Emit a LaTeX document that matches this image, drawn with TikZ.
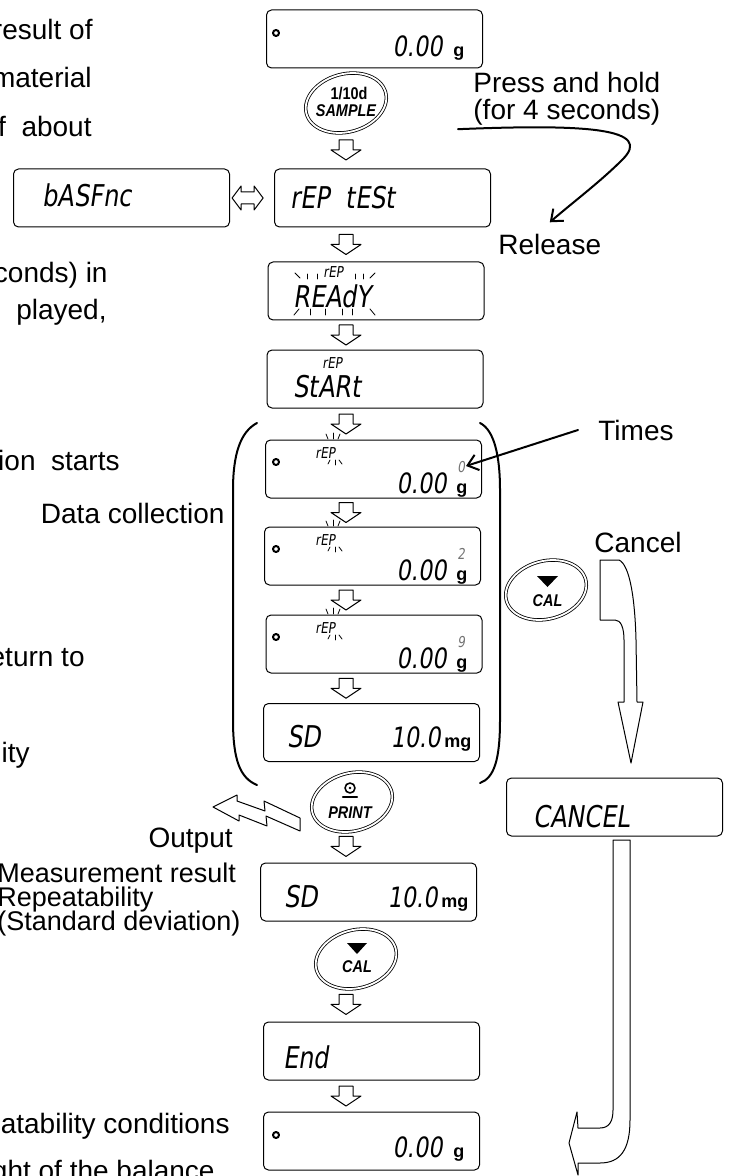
\documentclass[tikz,border=0pt]{standalone}
\usepackage{fontspec}
\setmainfont{Liberation Sans}
\newfontfamily\segfont[FakeStretch=0.8,FakeSlant=0.15]{DejaVu Sans}
\newfontfamily\keyfont[FakeStretch=0.85]{Liberation Sans}
\usetikzlibrary{shapes.geometric,arrows.meta,calc}

\tikzset{
  stepdown/.pic={\draw[fill=white,line width=.5pt] (-7,-10) -- (7,-10) -- (7,0) -- (15,0) -- (0,10) -- (-15,0) -- (-7,0) -- cycle;},
  swaparr/.pic={\draw[fill=white,line width=.5pt] (-15.5,0) -- (-6.5,-12) -- (-6.5,-6) -- (6.5,-6) -- (6.5,-12) -- (15.5,0) -- (6.5,12) -- (6.5,6) -- (-6.5,6) -- (-6.5,12) -- cycle;}
}
\newcommand\godown[2]{\pic at ($(ax |- #1)!.5!(ax |- #2)$) {stepdown};}

\begin{document}
\begin{tikzpicture}[x=0.5pt,y=-0.5pt,line cap=round,line join=round,
    lcd/.style={draw,rounded corners=2.5pt,line width=.5pt,minimum width=108pt,minimum height=29pt,inner sep=0pt},
    key/.style={ellipse,draw,double,double distance=.9pt,line width=.4pt,minimum width=41pt,minimum height=29pt,inner sep=0pt,rotate=15},
    seg/.style={font=\segfont\fontsize{15}{15}\selectfont,inner sep=0pt},
    segnum/.style={font=\segfont\fontsize{14}{14}\selectfont,inner sep=0pt},
    segsm/.style={font=\segfont\fontsize{7.5}{7.5}\selectfont,inner sep=0pt},
    unit/.style={font=\bfseries\fontsize{9}{9}\selectfont,inner sep=0pt},
    lbl/.style={font=\fontsize{14}{16}\selectfont,inner sep=0pt},
    lblsm/.style={font=\fontsize{13.5}{14}\selectfont,inner sep=0pt},
    keytxt/.style={font=\keyfont\bfseries\itshape\fontsize{8.5}{9}\selectfont,inner sep=0pt},
    blink/.style={line width=.4pt},
    >={Straight Barb[length=5pt,width=8pt]}]
  \useasboundingbox (0,0) rectangle (729,1176);
  \clip (0,0) rectangle (729,1176);
  \coordinate (ax) at (346,0);

  % text of the page, cut at the left edge
  \node[lbl,anchor=base east] (l1) at (93,40) {result of};
  \node[lbl,anchor=base east] (l2) at (92,88) {material};
  \node[lbl,anchor=base east] (l3) at (92,137) {f\ \ about};
  \node[lbl,anchor=base east] (l4) at (108,283) {conds) in};
  \node[lbl,anchor=base east] (l5) at (107,320) {played,};
  \node[lbl,anchor=base east] (l6) at (120,470) {tion\ \ starts};
  \node[lbl,anchor=base east] (l7) at (85,666) {eturn to};
  \node[lbl,anchor=base east] (l8) at (30,762) {ity};
  \node[lblsm,anchor=base west] (l9) at (-3,882) {Measurement result};
  \node[lblsm,anchor=base west] (l10) at (-3,906) {Repeatability};
  \node[lblsm,anchor=base west] (l11) at (-3,930) {(Standard deviation)};
  \node[lbl,anchor=base east] (l12) at (230,1133) {eatability conditions};
  \node[lbl,anchor=base east] (l13) at (215,1180) {ght of the balance};

  % labels
  \node[lbl,anchor=base west] (press1) at (473,93) {Press and hold};
  \node[lbl,anchor=base west] (press2) at (473,120) {(for 4 seconds)};
  \node[lbl,anchor=base west] (rel) at (498,255) {Release};
  \node[lbl,anchor=base west] (times) at (598,440) {Times};
  \node[lbl,anchor=base west] (cnc) at (594,552) {Cancel};
  \node[lbl,anchor=base east] (dcol) at (225,523) {Data collection};
  \node[lbl,anchor=base east] (outp) at (233,847) {Output};

  % displays and keys
  \node[lcd] (top0) at (374.5,39) {};
  \node[key] (smp) at (346,103) {};
  \node[keytxt] (smp1) at (349,94) {\upshape 1/10d};
  \node[keytxt] (smp2) at (346,111) {SAMPLE};
  \node[lcd] (bas) at (121.5,198) {};
  \node[lcd] (rept) at (382.5,198) {};
  \node[lcd] (ready) at (376,291) {};
  \node[lcd] (start) at (375,379) {};
  \node[lcd] (t1) at (373.5,469) {};
  \node[lcd] (t2) at (372.5,556) {};
  \node[lcd] (t3) at (374,644) {};
  \node[lcd] (sd1) at (371.5,732.5) {};
  \node[key] (prt) at (352,802) {};
  \node[keytxt] (prt1) at (350,813) {PRINT};
  \node[lcd] (sd2) at (368.5,892) {};
  \node[key] (cal1) at (356,959) {};
  \node[keytxt] (cal1t) at (357,967) {CAL};
  \node[lcd] (endd) at (371.5,1051) {};
  \node[lcd] (fin) at (371.5,1141) {};
  \node[key] (cal2) at (546,590) {};
  \node[keytxt] (cal2t) at (547.5,601) {CAL};
  \node[lcd] (cancel) at (614.5,807) {};

  % key symbols
  \draw[line width=.8pt] (350,788) circle (5);
  \fill (350,788) circle (1.3);
  \draw[line width=1.2pt] (343,797) -- (357,797);
  \fill (347,943) -- (367,943) -- (357,954) -- cycle;
  \fill (537,576) -- (558,576) -- (547.5,587) -- cycle;

  % display contents
  \draw[line width=1pt] (276,33) circle (3);
  \node[segnum,anchor=base east] (top0v) at (443,57) {0.00};
  \node[unit,anchor=base west] (top0u) at (453,57) {g};
  \node[seg,anchor=base west] (basv) at (42,207) {bASFnc};
  \node[seg,anchor=base west] (reptv) at (290,209) {rEP\hspace{8pt}tESt};
  \node[seg,anchor=base west] (readyv) at (293,307) {REAdY};
  \node[segsm,anchor=base west] (readyr) at (323,278) {rEP};
  \foreach \x in {307,317,355,363} \draw[blink] (\x,274) -- (\x,279);
  \draw[blink] (295,273) -- (300,278);
  \draw[blink] (375,273) -- (370,278);
  \foreach \x in {310,325,342,352} \draw[blink] (\x,309) -- (\x,315);
  \draw[blink] (299,309) -- (294,315);
  \draw[blink] (370,309) -- (375,315);
  \node[seg,anchor=base west] (startv) at (293,397) {StARt};
  \node[segsm,anchor=base west] (startr) at (322,368) {rEP};
  \foreach \n/\dy/\c in {1/0/0,2/87/2,3/175/9}{
    \draw[line width=1pt] (276,462+\dy) circle (3);
    \node[segsm,anchor=base west] (tr\n) at (315,458+\dy) {rEP};
    \draw[blink] (326,434+\dy) -- (328,439+\dy);
    \draw[blink] (333,433+\dy) -- (333,439+\dy);
    \draw[blink] (340,434+\dy) -- (338,439+\dy);
    \draw[blink] (330,460+\dy) -- (328,464+\dy);
    \draw[blink] (335,460+\dy) -- (335,465+\dy);
    \draw[blink] (339,460+\dy) -- (342,464+\dy);
    \node[segnum,anchor=base east] (tv\n) at (447,493+\dy) {0.00};
    \node[unit,anchor=base west] (tu\n) at (456,493+\dy) {g};
    \node[segsm,anchor=base west,text=black!55] (tc\n) at (457,472+\dy) {\c};
  }
  \node[seg,anchor=base west] (sd1a) at (287,747) {SD};
  \node[segnum,anchor=base east] (sd1v) at (441,747) {10.0};
  \node[unit,anchor=base west] (sd1u) at (444,747) {mg};
  \node[seg,anchor=base west] (sd2a) at (284,907) {SD};
  \node[segnum,anchor=base east] (sd2v) at (438,907) {10.0};
  \node[unit,anchor=base west] (sd2u) at (441,907) {mg};
  \node[seg,anchor=base west] (endv) at (283,1068) {End};
  \draw[line width=1pt] (276,1135) circle (3);
  \node[segnum,anchor=base east] (finv) at (443,1157) {0.00};
  \node[unit,anchor=base west] (finu) at (453,1157) {g};
  \node[seg,anchor=base west] (cancelv) at (533,827) {CANCEL};

  % step arrows
  \godown{smp.south}{rept.north}
  \godown{rept.south}{ready.north}
  \godown{ready.south}{start.north}
  \godown{start.south}{t1.north}
  \godown{t1.south}{t2.north}
  \godown{t2.south}{t3.north}
  \godown{t3.south}{sd1.north}
  \godown{prt.south}{sd2.north}
  \godown{cal1.south}{endd.north}
  \godown{endd.south}{fin.north}
  \pic at ($(bas.east)!.4!(rept.west)$) {swaparr};

  % brackets round the data collection
  \draw[line width=1pt] (257,423) .. controls (240,432) and (233,455) .. (233,490) -- (233,720)
    .. controls (233,760) and (240,778) .. (257,785);
  \draw[line width=1pt] (480,423) .. controls (494,430) and (500,455) .. (500,490) -- (500,720)
    .. controls (500,760) and (494,778) .. (480,783);

  % pointers
  \coordinate (hold) at ([xshift=-7.5pt,yshift=-1.5pt]press2.south west);
  \draw[->,line width=1pt] (hold) .. controls (585,124) and (655,128) .. (622,160)
    .. controls (600,182) and (572,203) .. ([yshift=6pt]rel.north);
  \coordinate (cnt) at (466,466);
  \draw[->,line width=1pt] ([xshift=-10pt]times.west) -- (cnt);

  % hollow arrows
  \draw[fill=white,line width=.5pt] (600,560) -- (619,560) .. controls (630,565) and (635,600) .. (636,640)
    -- (637,702) -- (643,702) -- (631,763) -- (618,702) -- (624,702) -- (624,640)
    .. controls (624,628) and (621,620) .. (615,620) -- (600,620) -- cycle;
  \draw[fill=white,line width=.5pt] (613,840) -- (630,840) -- (630,1120) .. controls (630,1150) and (620,1163) .. (600,1163)
    -- (578,1163) -- (578,1175) -- (569,1143) -- (577,1112) -- (578,1128) -- (600,1128)
    .. controls (610,1128) and (613,1120) .. (613,1110) -- cycle;
  \draw[fill=white,line width=.5pt] (213,807) -- (237,795) -- (237,801) -- (265,811) -- (264,801) -- (300,818)
    -- (300,831) -- (266,816) -- (267,826) -- (239,815) -- (239,821) -- cycle;
\end{tikzpicture}
\end{document}
